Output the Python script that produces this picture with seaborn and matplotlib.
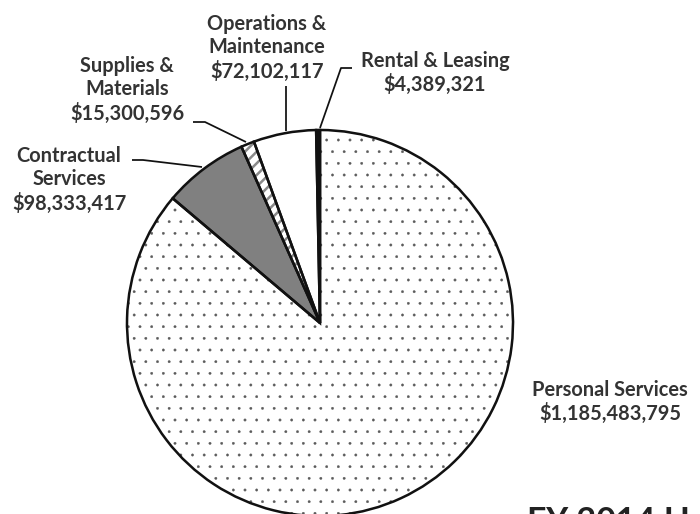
import matplotlib
matplotlib.use("Agg")
import matplotlib as mpl
import matplotlib.pyplot as plt
import seaborn as sns

# Data for visualization
categories = ["Rental & Leasing", "Operations &\nMaintenance", "Supplies &\nMaterials",
              "Contractual\nServices", "Personal Services"]
amounts = [4389321, 72102117, 15300596, 98333417, 1185483795]
face_colors = ["#111111", "white", "white", "#808080", "white"]
hatch_colors = ["#111111", "white", "#8a8a8a", "#808080", "#5a5a5a"]
hatches = [None, None, "//", None, "."]

sns.set_theme(style="white")
plt.rcParams["font.family"] = ["Lato", "DejaVu Sans"]

DPI = 70
W, H = 700, 514
CX, CY, R = 320, 323, 193  # pie centre / radius in pixels


def px(x, y):
    # image pixel (top-left origin) -> data coords
    return (x - CX) / R, (CY - y) / R


fig = plt.figure(figsize=(W / DPI, H / DPI), dpi=DPI)
ax = fig.add_axes([0, 0, 1, 1])

# filled + hatched wedges (edge colour = hatch colour), thin dots first
with mpl.rc_context({"hatch.linewidth": 0.4}):
    wedges, _ = ax.pie(amounts, startangle=90, counterclock=True, colors=face_colors,
                       wedgeprops=dict(linewidth=0))
    for w, hc, h in zip(wedges, hatch_colors, hatches):
        w.set_edgecolor(hc)
        if h == ".":
            w.set_hatch(h)

# thick stripes layer
with mpl.rc_context({"hatch.linewidth": 2.6}):
    stripes, _ = ax.pie(amounts, startangle=90, counterclock=True,
                        colors=["none"] * len(amounts), wedgeprops=dict(linewidth=0))
    for w, hc, h in zip(stripes, hatch_colors, hatches):
        if h == "//":
            w.set_edgecolor(hc)
            w.set_hatch(h)
            if hasattr(w, "set_hatch_linewidth"):
                w.set_hatch_linewidth(2.6)
        else:
            w.set_visible(False)

# black outlines on top
ax.pie(amounts, startangle=90, counterclock=True, colors=["none"] * len(amounts),
       wedgeprops=dict(linewidth=2.6, edgecolor="#111111", fill=False))

ax.set_xlim(px(0, 0)[0], px(W, 0)[0])
ax.set_ylim(px(0, H)[1], px(0, 0)[1])
ax.set_aspect("equal")
ax.axis("off")

# labels
fs = 20 * 72 / DPI
labels = [f"{c}\n${v:,}" for c, v in zip(categories, amounts)]
label_pos = [(435, 73), (267, 48), (127, 90), (69, 180), (610, 402)]
for txt, (lx, ly) in zip(labels, label_pos):
    ax.text(*px(lx, ly), txt, ha="center", va="center", fontsize=fs,
            fontweight="bold", color="#333333", linespacing=1.22)

# leader lines
leaders = [
    [(320, 128), (341, 68), (352, 68)],
    [(286, 86), (286, 131)],
    [(193, 122), (205, 122), (246, 142)],
    [(132, 160), (143, 160), (202, 167)],
]
for pts in leaders:
    xs, ys = zip(*[px(x, y) for x, y in pts])
    ax.plot(xs, ys, color="#111111", linewidth=1.8, solid_capstyle="butt")

# title cut off at bottom
ax.text(*px(527, 506), "FY 2014 Hawaii", ha="left", va="top",
        fontsize=34 * 72 / DPI, fontweight="bold", color="#222222")

fig.savefig("out.png", dpi=DPI)
